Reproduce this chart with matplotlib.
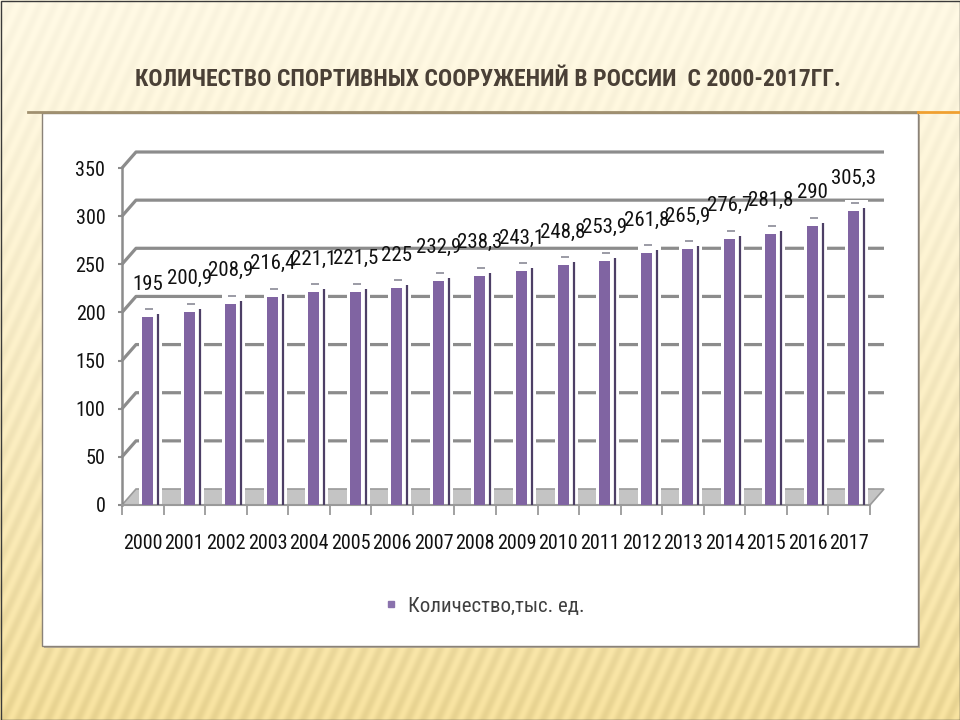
import numpy as np
from matplotlib import pyplot as plt
from matplotlib import font_manager
from matplotlib.patches import Rectangle, Polygon
from matplotlib.lines import Line2D

# Данные
Annees = ['2000', '2001', '2002', '2003', '2004', '2005', '2006', '2007', '2008',
          '2009', '2010', '2011', '2012', '2013', '2014', '2015', '2016', '2017']
Valeurs = [195, 200.9, 208.9, 216.4, 221.1, 221.5, 225, 232.9, 238.3,
           243.1, 248.8, 253.9, 261.8, 265.9, 276.7, 281.8, 290, 305.3]
Etiquettes = [str(v).replace('.', ',') for v in Valeurs]
TicksY = [0, 50, 100, 150, 200, 250, 300, 350]

Titre = "КОЛИЧЕСТВО СПОРТИВНЫХ СООРУЖЕНИЙ В РОССИИ  С 2000-2017ГГ."
Legende = "Количество,тыс. ед."

# choix de la police étroite
Installees = set(f.name for f in font_manager.fontManager.ttflist)
Police = 'DejaVu Sans'
for nom in ['Liberation Sans Narrow', 'DejaVu Sans Condensed', 'Roboto Condensed', 'Liberation Sans']:
    if nom in Installees:
        Police = nom
        break
plt.rcParams['font.family'] = [Police, 'DejaVu Sans']

W, H = 960, 720
fig = plt.figure(figsize=(9.6, 7.2), dpi=100)

# fond de la diapo
yy, xx = np.mgrid[0:H, 0:W]
t = (yy / H) ** 1.3
haut = np.array([253, 247, 226]) / 255.
bas = np.array([240, 219, 152]) / 255.
img = haut[None, None, :] * (1 - t[..., None]) + bas[None, None, :] * t[..., None]
raies = np.sin((xx + 0.45 * yy) * 2 * np.pi / 15.0) * (0.012 + 0.02 * t)
img = np.clip(img + raies[..., None], 0, 1)
axbg = fig.add_axes([0, 0, 1, 1])
axbg.imshow(img, aspect='auto', extent=[0, W, H, 0])
axbg.set_xlim(0, W)
axbg.set_ylim(H, 0)
axbg.axis('off')
axbg.add_patch(Rectangle((0.5, 0.5), W - 1, H - 1, fill=False, edgecolor='#3a3a3a', lw=1))

# titre
fig.text(488 / W, 1 - 80 / H, Titre, ha='center', va='center', fontsize=17,
         fontweight='bold', color='#4a4036')

# ligne et cadre blanc
axbg.plot([28, 918], [112, 112], color='#a09070', lw=2)
axbg.plot([918, 960], [112, 112], color='#F0A030', lw=2)
axbg.add_patch(Rectangle((44, 115), 876, 533, facecolor='#b8ad98', edgecolor='none'))
axbg.add_patch(Rectangle((42, 113), 876, 533, facecolor='white', edgecolor='#8a8278', lw=1))

# graphique
x0, x1 = 122, 870
y0, y1 = 505, 168
ax = fig.add_axes([x0 / W, 1 - y0 / H, (x1 - x0) / W, (y0 - y1) / H])
ax.set_xlim(-0.5, len(Annees) - 0.5)
ax.set_ylim(0, 350)
ax.patch.set_alpha(0)

pxX = len(Annees) / (x1 - x0)   # unités par pixel
pxY = 350 / (y0 - y1)
dX = 14 * pxX   # profondeur
dY = 16 * pxY
xa, xb = -0.5, len(Annees) - 0.5

# sol
ax.add_patch(Polygon([(xa, 0), (xb, 0), (xb + dX, dY), (xa + dX, dY)], closed=True,
                     facecolor='#c4c4c4', edgecolor='#9a9a9a', lw=1.2, clip_on=False, zorder=1))

# grille murale
for v in TicksY[1:]:
    ax.plot([xa, xa + dX, xb + dX], [v, v + dY, v + dY], color='#8c8c8c', lw=2.3,
            clip_on=False, zorder=1, solid_capstyle='butt')

# barres
X = np.arange(len(Annees))
dec = 4.75 * pxX
largeur = 11 * pxX
Xb = X + dec
ax.bar(Xb - largeur / 2 - 3 * pxX, [v + 11 * pxY for v in Valeurs], width=largeur + 12 * pxX,
       align='edge', color='white', edgecolor='none', zorder=2)
ax.bar(Xb, Valeurs, width=largeur, color='#8064A2', edgecolor='none', zorder=3)
ax.vlines(Xb + largeur / 2 + 5 * pxX, 0, [v + 3 * pxY for v in Valeurs],
          color='#4d3f66', lw=1.6, zorder=3)
ax.hlines([v + 8 * pxY for v in Valeurs], Xb - largeur / 2 + 3 * pxX, Xb + largeur / 2,
          color='#8a8a96', lw=1.2, zorder=3)

for i in range(len(Valeurs)):
    ax.annotate(Etiquettes[i], (Xb[i], Valeurs[i]), xytext=(0, 33), textcoords='offset pixels',
                ha='center', va='center', fontsize=15, color='#111111', zorder=5,
                annotation_clip=False)

# axes
for s in ['top', 'right']:
    ax.spines[s].set_visible(False)
ax.spines['left'].set_color('#8c8c8c')
ax.spines['left'].set_linewidth(1.8)
ax.spines['bottom'].set_color('#9a9a9a')
ax.spines['bottom'].set_linewidth(1.5)
ax.set_yticks(TicksY)
ax.set_yticklabels([str(v) for v in TicksY])
ax.tick_params(axis='y', length=3, width=1.5, color='#8c8c8c', pad=9, labelsize=14.5,
               labelcolor='#111111')
ax.set_xticks(np.arange(len(Annees) + 1) - 0.5)
ax.set_xticklabels([])
ax.set_xticks(X, minor=True)
ax.set_xticklabels(Annees, minor=True)
ax.tick_params(axis='x', which='major', length=7, width=1.3, color='#9a9a9a')
ax.tick_params(axis='x', which='minor', length=0, pad=21, labelsize=14.5, labelcolor='#111111')

# légende
poignee = Line2D([], [], marker='s', linestyle='none', markersize=4.5, color='#8a72ad')
fig.legend([poignee], [Legende], loc='center', bbox_to_anchor=(485 / W, 1 - 606 / H),
           frameon=False, fontsize=15, handlelength=0.6, handletextpad=0.5,
           labelcolor='#404040')

plt.savefig('out.png', dpi=100)
print("Police :", Police)
